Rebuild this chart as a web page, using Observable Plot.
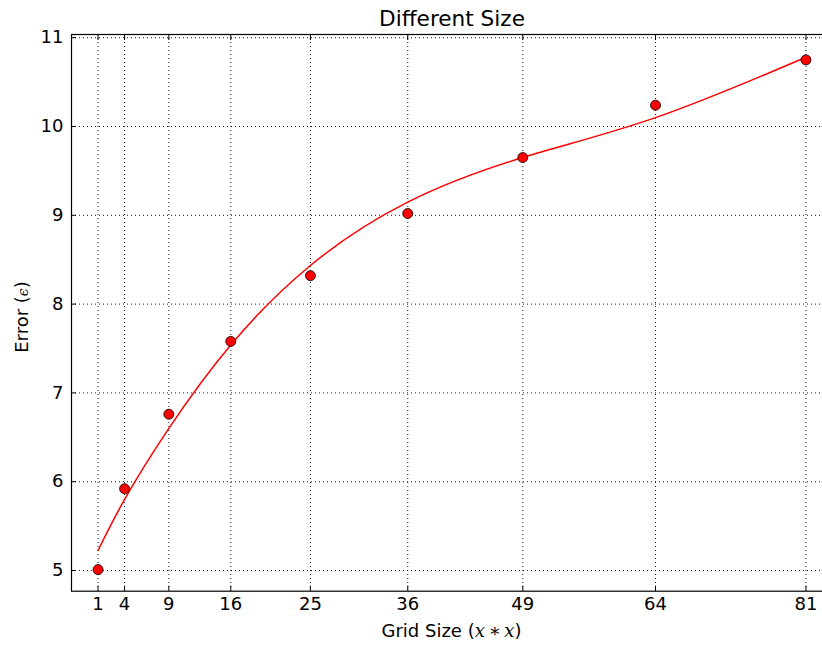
<!DOCTYPE html>
<html><head><meta charset="utf-8">
<script src="https://cdn.jsdelivr.net/npm/d3@7"></script>
<script src="https://cdn.jsdelivr.net/npm/@observablehq/plot@0.6"></script>
<style>
html,body{margin:0;padding:0;background:#fff;overflow:hidden}
#chart{width:822px;height:645px;overflow:hidden}
#chart svg{max-width:none !important;}
</style></head><body><div id="chart"></div>
<script>
const gridSizes = [1, 4, 9, 16, 25, 36, 49, 64, 81];
const errors = [5.01, 5.92, 6.76, 7.58, 8.32, 9.02, 9.65, 10.24, 10.75];
const fitX = [1, 4, 9, 16, 25, 36, 49, 64, 81];
const fitY = [5.225, 5.80, 6.60, 7.54, 8.435, 9.148, 9.65, 10.10, 10.78];
const xTicks = [1, 4, 9, 16, 25, 36, 49, 64, 81];
const yTicks = [5, 6, 7, 8, 9, 10, 11];
const titleText = "Different Size";

const points = gridSizes.map((x, i) => ({x, y: errors[i]}));
const fit = fitX.map((x, i) => ({x, y: fitY[i]}));

const gridStyle = {stroke: "#000", strokeOpacity: 0.9, strokeWidth: 1, strokeDasharray: "1,3"};

const svg = Plot.plot({
  width: 832, height: 645,
  marginLeft: 71, marginRight: 0, marginTop: 34, marginBottom: 54.3,
  style: {fontFamily: "DejaVu Sans", fontSize: "18px", color: "black", background: "white", overflow: "visible"},
  x: {domain: [-2, 84], label: null},
  y: {domain: [4.767, 11.036], label: null},
  marks: [
    Plot.gridX(xTicks, gridStyle),
    Plot.gridY(yTicks, gridStyle),
    Plot.axisX(xTicks, {anchor: "bottom", tickSize: -5, tickPadding: 11, label: null, tickFormat: d => String(d), fontSize: 18}),
    Plot.axisX(xTicks, {anchor: "top", tickSize: -5, tickFormat: () => "", label: null}),
    Plot.axisY(yTicks, {anchor: "left", tickSize: -5, tickPadding: 13, label: null, tickFormat: d => String(d), fontSize: 18}),
    Plot.axisY(yTicks, {anchor: "right", tickSize: -5, tickFormat: () => "", label: null}),
    Plot.frame({stroke: "#000", strokeWidth: 1.2}),
    Plot.line(fit, {x: "x", y: "y", stroke: "red", strokeWidth: 1.5, curve: "natural"}),
    Plot.dot(points, {x: "x", y: "y", r: 5, fill: "red", stroke: "black", strokeWidth: 0.8}),
    Plot.text([titleText], {frameAnchor: "top", dy: -24, fontSize: 21.6, fill: "black"})
  ]
});
document.getElementById("chart").appendChild(svg);

const s = d3.select(svg);
const xl = s.append("text")
  .attr("x", 451.5).attr("y", 637)
  .attr("text-anchor", "middle")
  .attr("font-family", "DejaVu Sans").attr("font-size", 18).attr("fill", "black");
xl.append("tspan").text("Grid Size (");
xl.append("tspan").attr("font-family", "DejaVu Serif").attr("font-style", "italic").text("x");
xl.append("tspan").attr("font-family", "DejaVu Serif").text("\u2009\u2217\u2009");
xl.append("tspan").attr("font-family", "DejaVu Serif").attr("font-style", "italic").text("x");
xl.append("tspan").text(")");

const yl = s.append("text")
  .attr("transform", "translate(28,317) rotate(-90)")
  .attr("text-anchor", "middle")
  .attr("font-family", "DejaVu Sans").attr("font-size", 18).attr("fill", "black");
yl.append("tspan").text("Error (");
yl.append("tspan").attr("font-family", "DejaVu Serif").attr("font-style", "italic").attr("font-size", 14).text("\u03F5");
yl.append("tspan").text(")");
</script>
</body></html>
